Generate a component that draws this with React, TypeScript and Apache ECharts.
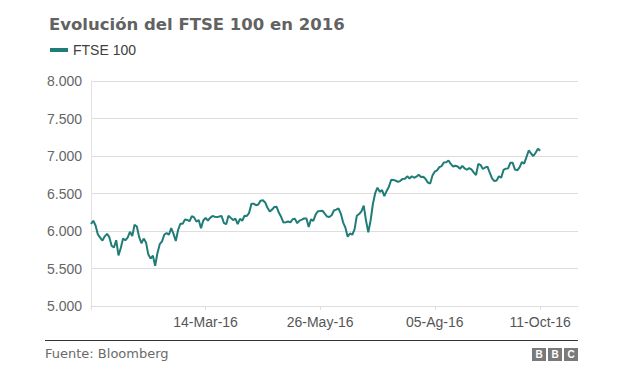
import React, { useEffect, useRef } from "react";
import * as echarts from "echarts";

const titleText = "Evolución del FTSE 100 en 2016";
const seriesName = "FTSE 100";
const sourceText = "Fuente: Bloomberg";

// Daily closes, trading days from 04-Jan-16 to 11-Oct-16 (index = trading day)
const ftseValues: number[] = [
  // Jan
  6093, 6137, 6073, 5954, 5912, 5872, 5929, 5961, 5918, 5804,
  5780, 5877, 5674, 5774, 5900, 5877, 5911, 5990, 5932, 6084,
  // Feb
  6060, 5922, 5837, 5899, 5848, 5689, 5632, 5672, 5537, 5708,
  5824, 5862, 5953, 5972, 5950, 6038, 5962, 5867, 6013, 6096, 6097,
  // Mar
  6153, 6147, 6130, 6199, 6182, 6125, 6146, 6037, 6140,
  6175, 6140, 6175, 6201, 6190, 6185, 6193, 6199, 6106,
  6091, 6203, 6175,
  // Apr
  6146, 6165, 6091, 6162, 6137, 6204, 6200, 6242, 6363, 6365, 6344,
  6354, 6405, 6410, 6381, 6310, 6261, 6285, 6320, 6322, 6242,
  // May
  6186, 6112, 6117, 6126, 6115, 6157, 6162, 6104, 6139,
  6151, 6168, 6166, 6053, 6156, 6136, 6219, 6263, 6266, 6271, 6231,
  // Jun
  6192, 6186, 6210, 6273, 6285, 6302, 6232, 6116, 6045, 5924, 5967,
  5950, 6021, 6204, 6227, 6261, 6338, 6139, 5982, 6140, 6360, 6504,
  // Jul
  6578, 6522, 6545, 6464, 6534, 6591, 6683, 6681, 6670, 6654, 6669,
  6695, 6697, 6729, 6700, 6730, 6710, 6724, 6750, 6721, 6724,
  // Aug
  6694, 6645, 6634, 6740, 6793, 6809, 6851, 6866, 6915, 6916,
  6941, 6894, 6859, 6869, 6859, 6829, 6869, 6836, 6817, 6838, 6821, 6782,
  // Sep
  6746, 6895, 6879, 6826, 6847, 6859, 6777, 6701, 6666, 6673, 6730,
  6710, 6814, 6831, 6835, 6911, 6909, 6818, 6808, 6849, 6919, 6899,
  // Oct
  6984, 7074, 7033, 7000, 7044, 7098, 7071,
];

const xTickIndices: number[] = [0, 50, 100, 150, 196];
const xTickLabels: string[] = ["", "14-Mar-16", "26-May-16", "05-Ag-16", "11-Oct-16"];
const xAxisMax = 212.5;
const yMin = 5000;
const yMax = 8000;
const yStep = 500;

const lineColor = "#1f7c76";

export default function App() {
  const ref = useRef<HTMLDivElement>(null);

  useEffect(() => {
    if (!ref.current) return;
    const chart = echarts.init(ref.current, null, { renderer: "svg" });
    const seriesData = ftseValues.map((v, i) => [i, v]);

    chart.setOption({
      animation: false,
      title: {
        text: titleText,
        left: 44,
        top: 11,
        textStyle: {
          fontFamily: "DejaVu Sans",
          fontWeight: "bold",
          fontSize: 16.5,
          color: "#626262",
        },
      },
      legend: {
        left: 45,
        top: 38,
        icon: "rect",
        itemWidth: 18,
        itemHeight: 4,
        itemGap: 10,
        data: [seriesName],
        textStyle: {
          fontFamily: "Liberation Sans",
          fontSize: 14,
          color: "#404040",
        },
      },
      grid: { left: 91, right: 46, top: 81, bottom: 70 },
      xAxis: {
        type: "value",
        min: 0,
        max: xAxisMax,
        axisLine: { show: true, lineStyle: { color: "#dedede", width: 1 } },
        axisTick: {
          show: true,
          length: 4,
          customValues: xTickIndices,
          lineStyle: { color: "#dedede" },
        },
        splitLine: { show: false },
        axisLabel: {
          customValues: xTickIndices,
          margin: 9,
          fontFamily: "Liberation Sans",
          fontSize: 14,
          color: "#555555",
          formatter: (v: number) => {
            const k = xTickIndices.indexOf(v);
            return k >= 0 ? xTickLabels[k] : "";
          },
        },
      },
      yAxis: {
        type: "value",
        min: yMin,
        max: yMax,
        interval: yStep,
        axisLine: { show: true, lineStyle: { color: "#e3e3e3", width: 1 } },
        axisTick: { show: false },
        splitLine: { show: true, lineStyle: { color: "#dedede", width: 1 } },
        axisLabel: {
          margin: 9,
          fontFamily: "Liberation Sans",
          fontSize: 14,
          color: "#666666",
          formatter: (v: number) => (v / 1000).toFixed(3),
        },
      },
      series: [
        {
          name: seriesName,
          type: "line",
          data: seriesData,
          showSymbol: false,
          symbol: "none",
          lineStyle: { color: lineColor, width: 2 },
          itemStyle: { color: lineColor },
        },
      ],
      graphic: [
        {
          type: "line",
          shape: { x1: 45, y1: 340.5, x2: 578, y2: 340.5 },
          style: { stroke: "#333333", lineWidth: 1 },
        },
        {
          type: "text",
          left: 45,
          top: 347,
          style: {
            text: sourceText,
            font: "13px 'DejaVu Sans'",
            fill: "#6a6a6a",
          },
        },
        {
          type: "group",
          left: 532,
          top: 348,
          children: [0, 1, 2].map((k) => ({
            type: "group",
            x: k * 16,
            children: [
              { type: "rect", shape: { x: 0, y: 0, width: 14, height: 13 }, style: { fill: "#7a7a7a" } },
              {
                type: "text",
                x: 7,
                y: 6.5,
                style: {
                  text: k === 2 ? "C" : "B",
                  font: "bold 10px 'Liberation Sans'",
                  fill: "#ffffff",
                  align: "center",
                  verticalAlign: "middle",
                },
              },
            ],
          })),
        },
      ],
    });

    return () => chart.dispose();
  }, []);

  return (
    <div
      ref={ref}
      style={{ position: "fixed", left: 0, top: 0, width: 624, height: 376, background: "#ffffff" }}
    />
  );
}
